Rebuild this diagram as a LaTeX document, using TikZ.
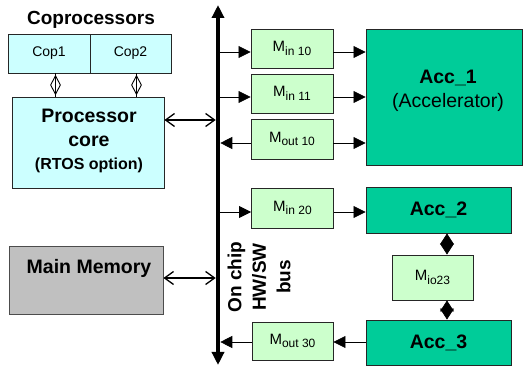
\documentclass[tikz,border=0pt]{standalone}
\usepackage{fontspec}
\setmainfont{Liberation Sans}
\usetikzlibrary{arrows.meta,shapes.geometric}
\definecolor{cyanbox}{HTML}{CCFFFF}
\definecolor{greenbox}{HTML}{CCFFCC}
\definecolor{accbox}{HTML}{00CC99}
\definecolor{membox}{HTML}{C0C0C0}
\newcommand{\subtxt}[1]{\raisebox{-3.5pt}{\fontsize{12}{14}\selectfont #1}}
\begin{document}
\begin{tikzpicture}[x=1pt,y=-1pt,
  box/.style={draw=black!85, line width=0.9pt, inner sep=0pt, align=center},
  cop/.style={box, fill=cyanbox, minimum height=39pt, font=\fontsize{14}{16}\selectfont},
  mbox/.style={box, fill=greenbox, minimum width=82pt, minimum height=39pt, font=\fontsize{15}{17}\selectfont},
  acc/.style={box, fill=accbox, font=\fontsize{19.5}{23.5}\selectfont\bfseries},
  bigtxt/.style={font=\fontsize{19.5}{23.5}\selectfont\bfseries, align=center, inner sep=0pt},
  arr/.style={line width=0.7pt, -{Triangle[length=12pt,width=12pt]}},
  dblarr/.style={line width=0.7pt, {Triangle[length=11pt,width=14pt]}-{Triangle[length=11pt,width=14pt]}},
  barb/.style={line width=1.3pt, {Straight Barb[length=9pt,width=13pt,line width=1.3pt]}-{Straight Barb[length=9pt,width=13pt,line width=1.3pt]}},
  dmd/.style={diamond, draw=black, line width=0.9pt, minimum width=10pt, minimum height=19pt, inner sep=0pt}
]
\useasboundingbox (0,0) rectangle (523,366);

% Coprocessors
\node[bigtxt, font=\fontsize{19}{22}\selectfont\bfseries] (coptitle) at (91,20) {Coprocessors};
\node[cop, minimum width=82pt] (cop1) at (49,53.5) {Cop1};
\node[cop, minimum width=81pt] (cop2) at (130.5,53.5) {Cop2};

% Processor core
\node[box, fill=cyanbox, minimum width=152pt, minimum height=91pt] (proc) at (88,142.5) {};
\node[inner sep=0pt, align=center, font=\fontsize{19.5}{23.5}\selectfont\bfseries] (proctxt) at (89,141)
  {Processor\\core\\{\fontsize{16}{19}\selectfont(RTOS option)}};

% Main memory
\node[box, draw=black!70, fill=membox, minimum width=154pt, minimum height=68pt] (mem) at (86,280) {};
\node[bigtxt] (memtxt) at (89,268.5) {Main Memory};

% Bus
\coordinate (bustop) at (218,5);
\coordinate (busbot) at (218,365);
\draw[line width=4.5pt, {Triangle[length=13pt,width=12pt]}-{Triangle[length=13pt,width=12pt]}] (busbot) -- (bustop);
\node[bigtxt, rotate=90, font=\fontsize{19}{24.5}\selectfont\bfseries] (buslbl) at (259,277) {On chip\\HW/SW\\bus};

% Memory boxes
\node[mbox] (min10) at (292,48.5) {M\subtxt{in 10}};
\node[mbox] (min11) at (292,93.5) {M\subtxt{in 11}};
\node[mbox, minimum height=40pt] (mout10) at (292,139) {M\subtxt{out 10}};
\node[mbox, minimum height=40pt] (min20) at (292.5,208) {M\subtxt{in 20}};
\node[mbox, minimum width=81pt, minimum height=38pt] (mout30) at (292.5,341) {M\subtxt{out 30}};
\node[mbox, minimum width=81pt, minimum height=45pt] (mio23) at (432.5,277.5) {M\subtxt{io23}};

% Accelerators
\node[acc, minimum width=156pt, minimum height=136pt] (acc1) at (444,97) {};
\node[inner sep=0pt, align=center, font=\fontsize{19.5}{24.5}\selectfont] (acc1txt) at (448,91) {\textbf{Acc\_1}\\(Accelerator)};
\node[acc, minimum width=145pt, minimum height=46pt] (acc2) at (438.5,210) {Acc\_2};
\node[acc, minimum width=145pt, minimum height=45pt] (acc3) at (438.5,342.5) {Acc\_3};

% Coprocessor links
\draw[line width=0.9pt] ([xshift=6.5pt]cop1.south) -- node[dmd] (d1) {} ([xshift=6.5pt]cop1.south |- proc.north);
\draw[line width=0.9pt] ([xshift=6pt]cop2.south) -- node[dmd] (d2) {} ([xshift=6pt]cop2.south |- proc.north);

% Processor and memory to bus
\path ([yshift=22.5pt]proc.east) coordinate (pe);
\draw[barb] (pe) -- ([xshift=-2.3pt]pe -| bustop);
\path ([yshift=2pt]mem.east) coordinate (me);
\draw[barb] (me) -- ([xshift=-2.3pt]me -| bustop);

% Bus to memory boxes
\path ([yshift=-3.5pt]min10.west) coordinate (a1);
\path ([yshift=-3.5pt]min11.west) coordinate (a2);
\path ([yshift=-4pt]mout10.west) coordinate (a3);
\path ([yshift=-4pt]min20.west) coordinate (a4);
\path ([yshift=-1pt]mout30.west) coordinate (a5);
\draw[arr] (a1 -| bustop) -- (a1);
\draw[arr] (a2 -| bustop) -- (a2);
\draw[arr] (a3) -- ([xshift=2.3pt]a3 -| bustop);
\draw[arr] (a4 -| bustop) -- (a4);
\draw[arr] (a5) -- ([xshift=2.3pt]a5 -| bustop);

% Memory boxes to accelerators
\path ([yshift=-3.5pt]min10.east) coordinate (b1);
\path ([yshift=-3.5pt]min11.east) coordinate (b2);
\path ([yshift=-4pt]mout10.east) coordinate (b3);
\path ([yshift=-4pt]min20.east) coordinate (b4);
\path ([yshift=-1pt]mout30.east) coordinate (b5);
\draw[arr] (b1) -- (b1 -| acc1.west);
\draw[arr] (b2) -- (b2 -| acc1.west);
\draw[arr] (b3) -- (b3 -| acc1.west);
\draw[arr] (b4) -- (b4 -| acc2.west);
\draw[arr] (b5 -| acc3.west) -- (b5);

% Acc_2 <-> Mio23 <-> Acc_3
\path ([xshift=8.5pt]acc2.south) coordinate (c1);
\draw[dblarr] (c1) -- (c1 |- mio23.north);
\path ([xshift=8.5pt]acc3.north) coordinate (c2);
\draw[dblarr] (c2 |- mio23.south) -- (c2);
\end{tikzpicture}
\end{document}
